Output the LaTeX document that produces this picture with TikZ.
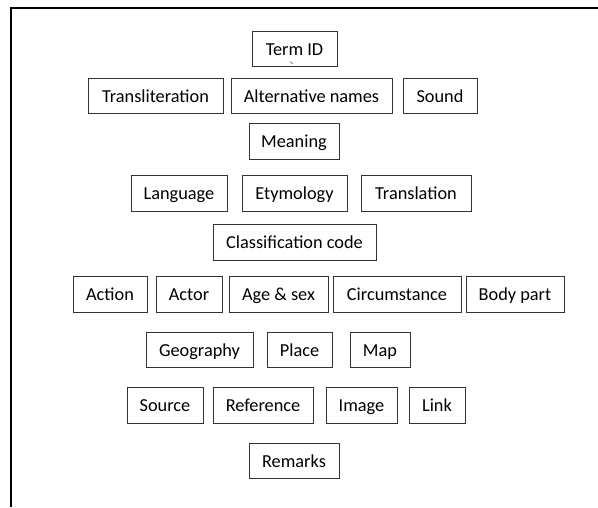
\documentclass[tikz,border=0pt]{standalone}
\usepackage{fontspec}
\setmainfont{Carlito}
\begin{document}
\begin{tikzpicture}[x=1pt,y=-1pt,
  field/.style={draw=black!80, line width=1pt, rectangle, inner sep=0pt, minimum height=35pt, text height=16pt, text depth=3pt, font=\fontsize{18.3}{21}\selectfont, text=black},
  frame/.style={draw=black, line width=2pt}]
\useasboundingbox (0,0) rectangle (598,507);
\draw[frame] (11,507) -- (11,8) -- (598,8);
% row 1
\node[field, minimum width=85pt] (termid) at (294.5,48.5) {Term ID};
% row 2
\node[field, minimum width=135pt] (translit) at (155.5,95.5) {Transliteration};
\node[field, minimum width=161pt] (altnames) at (311.5,95.5) {Alternative names};
\node[field, minimum width=74pt] (sound) at (440,95.5) {Sound};
% row 3
\node[field, minimum width=90pt, minimum height=36pt] (meaning) at (294,141) {Meaning};
% row 4
\node[field, minimum width=96pt, minimum height=36pt] (language) at (179,193) {Language};
\node[field, minimum width=105pt, minimum height=36pt] (etymology) at (294.5,193) {Etymology};
\node[field, minimum width=110pt, minimum height=36pt] (translation) at (416,193) {Translation};
% row 5
\node[field, minimum width=163pt, minimum height=36pt] (classif) at (294.5,242) {Classification code};
% row 6
\node[field, minimum width=74pt, minimum height=36pt] (action) at (110,294) {Action};
\node[field, minimum width=66pt, minimum height=36pt] (actor) at (189,294) {Actor};
\node[field, minimum width=99pt, minimum height=36pt] (agesex) at (278.5,294) {Age \& sex};
\node[field, minimum width=128pt, minimum height=36pt] (circ) at (397,294) {Circumstance};
\node[field, minimum width=98pt, minimum height=36pt] (bodypart) at (515,294) {Body part};
% row 7
\node[field, minimum width=107pt] (geography) at (199.5,349.5) {Geography};
\node[field, minimum width=65pt] (place) at (299.5,349.5) {Place};
\node[field, minimum width=60pt] (map) at (380,349.5) {Map};
% row 8
\node[field, minimum width=76pt, minimum height=36pt] (source) at (165,405) {Source};
\node[field, minimum width=100pt, minimum height=36pt] (reference) at (263,405) {Reference};
\node[field, minimum width=71pt, minimum height=36pt] (image) at (361.5,405) {Image};
\node[field, minimum width=56pt, minimum height=36pt] (link) at (437,405) {Link};
% row 9
\node[field, minimum width=90pt] (remarks) at (294,460.5) {Remarks};
% small tick inside Term ID
\draw[black!60, line width=0.6pt] (290,61.5) -- (293,64);
\end{tikzpicture}
\end{document}
